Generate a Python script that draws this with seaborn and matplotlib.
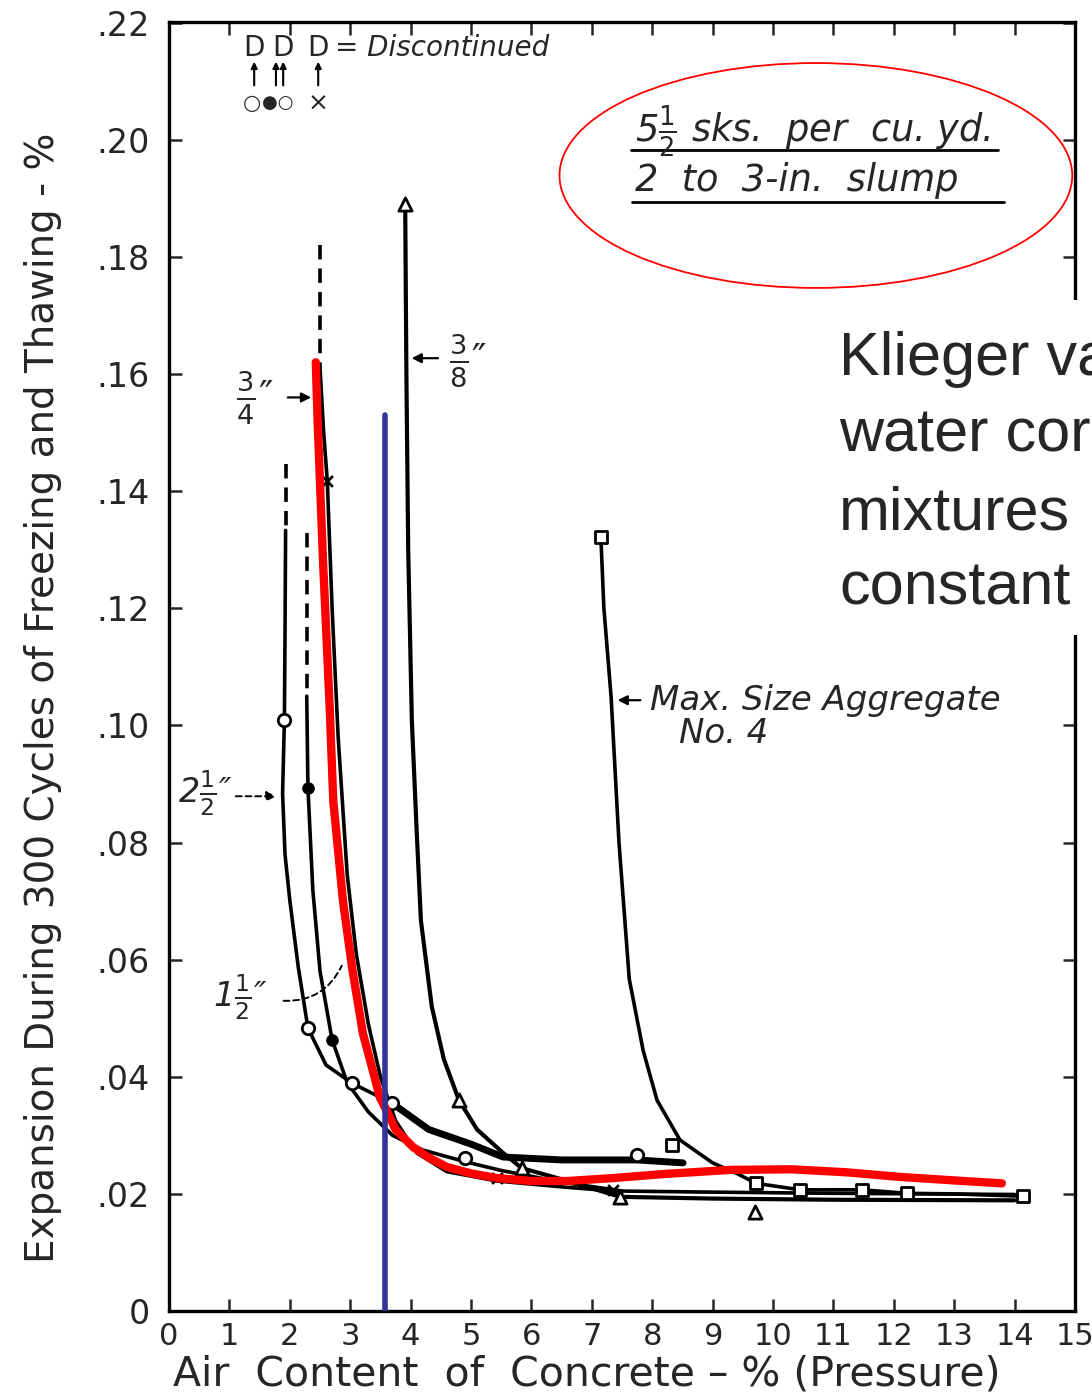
import matplotlib
matplotlib.use("Agg")
import matplotlib.pyplot as plt
import seaborn as sns
from matplotlib.patches import Ellipse, Rectangle

# data (air content %, expansion %)
air_a = [1.93, 1.92, 1.91, 1.88, 1.92, 2.0, 2.14, 2.30, 2.6, 3.03, 3.69]
exp_a = [.1333, .115, .1009, .0884, .078, .0701, .0587, .0483, .042, .0389, .0355]
air_a_thick = [3.69, 4.3, 5.0, 5.53, 6.5, 7.75, 8.51]
exp_a_thick = [.0355, .031, .0285, .0263, .0258, .0258, .0253]
air_a_dash = [1.93, 1.93]
exp_a_dash = [.1447, .1333]

air_b = [2.28, 2.29, 2.30, 2.38, 2.5, 2.70, 2.95, 3.3, 3.7, 4.2, 4.9, 5.5, 6.5, 7.5]
exp_b = [.105, .097, .0893, .072, .058, .0463, .039, .034, .030, .0275, .0255, .024, .022, .0205]
air_b_dash = [2.28, 2.28]
exp_b_dash = [.1328, .105]

air_c = [2.5, 2.56, 2.62, 2.7, 2.8, 2.95, 3.1, 3.3, 3.5, 3.75, 4.1, 4.6, 5.43, 6.5, 7.35, 9.0, 11.0, 14.0]
exp_c = [.161, .15, .1418, .12, .098, .0745, .061, .049, .040, .0325, .027, .0238, .0222, .0212, .0205, .0203, .0201, .0199]
air_c_dash = [2.5, 2.5]
exp_c_dash = [.182, .161]

air_d = [3.91, 3.93, 3.96, 4.02, 4.1, 4.17, 4.35, 4.55, 4.8, 5.1, 5.53, 5.84, 6.5, 7.47, 9.0, 11.0, 14.0]
exp_d = [.1891, .16, .13, .1009, .082, .0667, .052, .043, .036, .031, .027, .0244, .0225, .0195, .0192, .019, .0189]

air_e = [7.15, 7.2, 7.32, 7.45, 7.62, 7.85, 8.08, 8.46, 9.0, 9.4, 9.72, 10.45, 11.47, 12.22, 13.0, 14.14]
exp_e = [.1321, .12, .1048, .08, .0567, .0445, .036, .0292, .0253, .0235, .0218, .0207, .0207, .0201, .0200, .0196]

# test points
circ_x = [1.91, 2.30, 3.03, 3.69, 4.9, 7.75]
circ_y = [.1009, .0483, .0389, .0355, .0261, .0266]
dot_x = [2.30, 2.70]
dot_y = [.0893, .0463]
cross_x = [2.62, 5.43, 7.35]
cross_y = [.1418, .0227, .0207]
tri_x = [3.91, 4.80, 5.84, 7.47, 9.70]
tri_y = [.1891, .036, .0244, .0195, .0169]
sq_x = [7.15, 8.33, 9.72, 10.45, 11.47, 12.22, 14.14]
sq_y = [.1321, .0283, .0218, .0207, .0207, .0201, .0196]

# red overlay curve and blue marker line
red_x = [2.43, 2.46, 2.55, 2.66, 2.72, 2.88, 3.03, 3.21, 3.36, 3.49, 3.6, 3.75, 4.04, 4.3, 4.6, 5.0,
         5.43, 6.0, 6.6, 7.35, 8.2, 9.3, 10.3, 11.2, 12.1, 13.0, 13.79]
red_y = [.162, .152, .128, .103, .087, .070, .0587, .0474, .0416, .0365, .0343, .031, .028, .0262, .0246,
         .0235, .0227, .0222, .0222, .0227, .0234, .0241, .0242, .0237, .0229, .0223, .0218]
blue_x = [3.57, 3.57]
blue_y = [0.0, .153]

xticks = list(range(16))
xtick_labels = [str(v) for v in xticks]
yticks = [0, .02, .04, .06, .08, .10, .12, .14, .16, .18, .20, .22]
ytick_labels = ["0", ".02", ".04", ".06", ".08", ".10", ".12", ".14", ".16", ".18", ".20", ".22"]

# key for discontinued specimens
key_d_x = [1.41, 1.89, 2.47]
key_arrow_x = [1.41, 1.77, 1.89, 2.47]

sns.set_style("ticks")
plt.rcParams['font.family'] = ['DejaVu Sans']
plt.rcParams['mathtext.fontset'] = 'dejavusans'

fig = plt.figure(figsize=(10.92, 13.95), dpi=100)
ax = fig.add_axes([0.1548, 0.0602, 0.8296, 0.924])

black = dict(color='black', sort=False, estimator=None, ax=ax, legend=False)
sns.lineplot(x=air_a, y=exp_a, linewidth=2.6, **black)
sns.lineplot(x=air_a_thick, y=exp_a_thick, linewidth=5, **black)
sns.lineplot(x=air_b, y=exp_b, linewidth=2.6, **black)
sns.lineplot(x=air_c, y=exp_c, linewidth=2.6, **black)
sns.lineplot(x=air_d, y=exp_d, linewidth=3.0, **black)
sns.lineplot(x=air_e, y=exp_e, linewidth=2.6, **black)
for dx, dy in [(air_a_dash, exp_a_dash), (air_b_dash, exp_b_dash), (air_c_dash, exp_c_dash)]:
    sns.lineplot(x=dx, y=dy, linewidth=2.6, linestyle=(0, (4, 2.5)), **black)

mk = dict(ax=ax, zorder=4, legend=False)
sns.scatterplot(x=circ_x, y=circ_y, marker='o', s=80, color='white', edgecolor='black', linewidth=2, **mk)
sns.scatterplot(x=dot_x, y=dot_y, marker='o', s=70, color='black', edgecolor='black', **mk)
sns.scatterplot(x=cross_x, y=cross_y, marker='x', s=60, color='black', linewidth=2, **mk)
sns.scatterplot(x=tri_x, y=tri_y, marker='^', s=90, color='white', edgecolor='black', linewidth=2, **mk)
sns.scatterplot(x=sq_x, y=sq_y, marker='s', s=80, color='white', edgecolor='black', linewidth=2, **mk)

sns.lineplot(x=red_x, y=red_y, color='red', linewidth=6, sort=False, estimator=None, ax=ax, zorder=5)
sns.lineplot(x=blue_x, y=blue_y, color='#333399', linewidth=4, sort=False, estimator=None, ax=ax, zorder=6)

ax.set_xlim(0, 15)
ax.set_ylim(0, 0.2201)
ax.set_xticks(xticks)
ax.set_xticklabels(xtick_labels, fontsize=22)
ax.set_yticks(yticks)
ax.set_yticklabels(ytick_labels, fontsize=24)
ax.tick_params(direction='in', top=True, right=True, length=9, width=1.8)
ax.tick_params(axis='y', pad=14)
ax.tick_params(axis='x', pad=8)
for sp in ax.spines.values():
    sp.set_linewidth(2.4)
    sp.set_color('black')

ax.set_xlabel("Air  Content  of  Concrete – % (Pressure)", fontsize=29.5)
ax.set_ylabel("Expansion During 300 Cycles of Freezing and Thawing - %", fontsize=28)
ax.xaxis.set_label_coords(0.461, -0.034)
ax.yaxis.set_label_coords(-0.118, 0.476)

# "Discontinued" key
for kx in key_d_x:
    ax.text(kx, .2157, "D", fontsize=20, ha='center', va='center')
ax.text(2.75, .2157, "= Discontinued", fontsize=20, style='italic', ha='left', va='center')
for kx in key_arrow_x:
    ax.annotate("", xy=(kx, .2138), xytext=(kx, .2088),
                arrowprops=dict(arrowstyle='-|>', color='black', lw=1.5, mutation_scale=9))
ax.text(1.37, .2062, "○", fontsize=15, ha='center', va='center')
ax.text(1.80, .2062, "●○", fontsize=13, ha='center', va='center')
ax.text(2.47, .2062, "×", fontsize=18, ha='center', va='center')

# ellipse note
ax.add_patch(Ellipse((10.71, .1939), 8.49, .0384, fill=False, edgecolor='red', linewidth=1.3, clip_on=False))
note_x = 7.72
ax.text(note_x, .1997, r"5$\frac{1}{2}$ sks.  per  cu. yd.", fontsize=26.5, style='italic', va='baseline')
ax.text(note_x, .1913, "2  to  3-in.  slump", fontsize=26.5, style='italic', va='baseline')
ax.plot([note_x - 0.07, note_x + 6.0], [.1982, .1982], color='black', linewidth=2)
ax.plot([note_x - 0.05, note_x + 6.1], [.1894, .1894], color='black', linewidth=2)

# curve labels
arrow = dict(arrowstyle='-|>', color='black', lw=1.6, mutation_scale=14)
ax.text(1.42, .156, r"$\frac{3}{4}$″", fontsize=28, ha='center', va='center')
ax.annotate("", xy=(2.40, .156), xytext=(1.92, .156), arrowprops=arrow)
ax.text(4.95, .1623, r"$\frac{3}{8}$″", fontsize=28, ha='center', va='center')
ax.annotate("", xy=(3.97, .1627), xytext=(4.50, .1627), arrowprops=arrow)
ax.text(0.6, .0884, r"2$\frac{1}{2}$″", fontsize=24, ha='center', va='center', style='italic')
ax.annotate("", xy=(1.82, .0879), xytext=(1.06, .0879),
            arrowprops=dict(arrowstyle='-|>', color='black', lw=1.4, ls=(0, (3, 2)), mutation_scale=14))
ax.text(1.18, .0536, r"1$\frac{1}{2}$″", fontsize=24, ha='center', va='center', style='italic')
ax.annotate("", xy=(2.88, .0594), xytext=(1.85, .0530),
            arrowprops=dict(arrowstyle='-', color='black', lw=1.4, ls=(0, (3, 2)),
                            connectionstyle='arc3,rad=0.35'))
ax.text(7.96, .1043, "Max. Size Aggregate", fontsize=24.5, style='italic', va='center')
ax.text(8.44, .0987, "No. 4", fontsize=24.5, style='italic', va='center')
ax.annotate("", xy=(7.38, .1043), xytext=(7.85, .1043), arrowprops=arrow)

# slide text box on the right (covers the frame there, cut at the page edge)
fig.add_artist(Rectangle((825 / 1092, 1 - 635 / 1395), (1092 - 825) / 1092, 335 / 1395,
                         transform=fig.transFigure, facecolor='white', edgecolor='none', zorder=10))
slide_lines = ["Klieger va", "water cor", "mixtures", "constant"]
baselines = [375, 451, 529, 604]
for line, b in zip(slide_lines, baselines):
    fig.text(839 / 1092, 1 - b / 1395, line, fontsize=44, family='Liberation Sans',
             va='baseline', ha='left', zorder=11)

fig.savefig("out.png", dpi=100)
